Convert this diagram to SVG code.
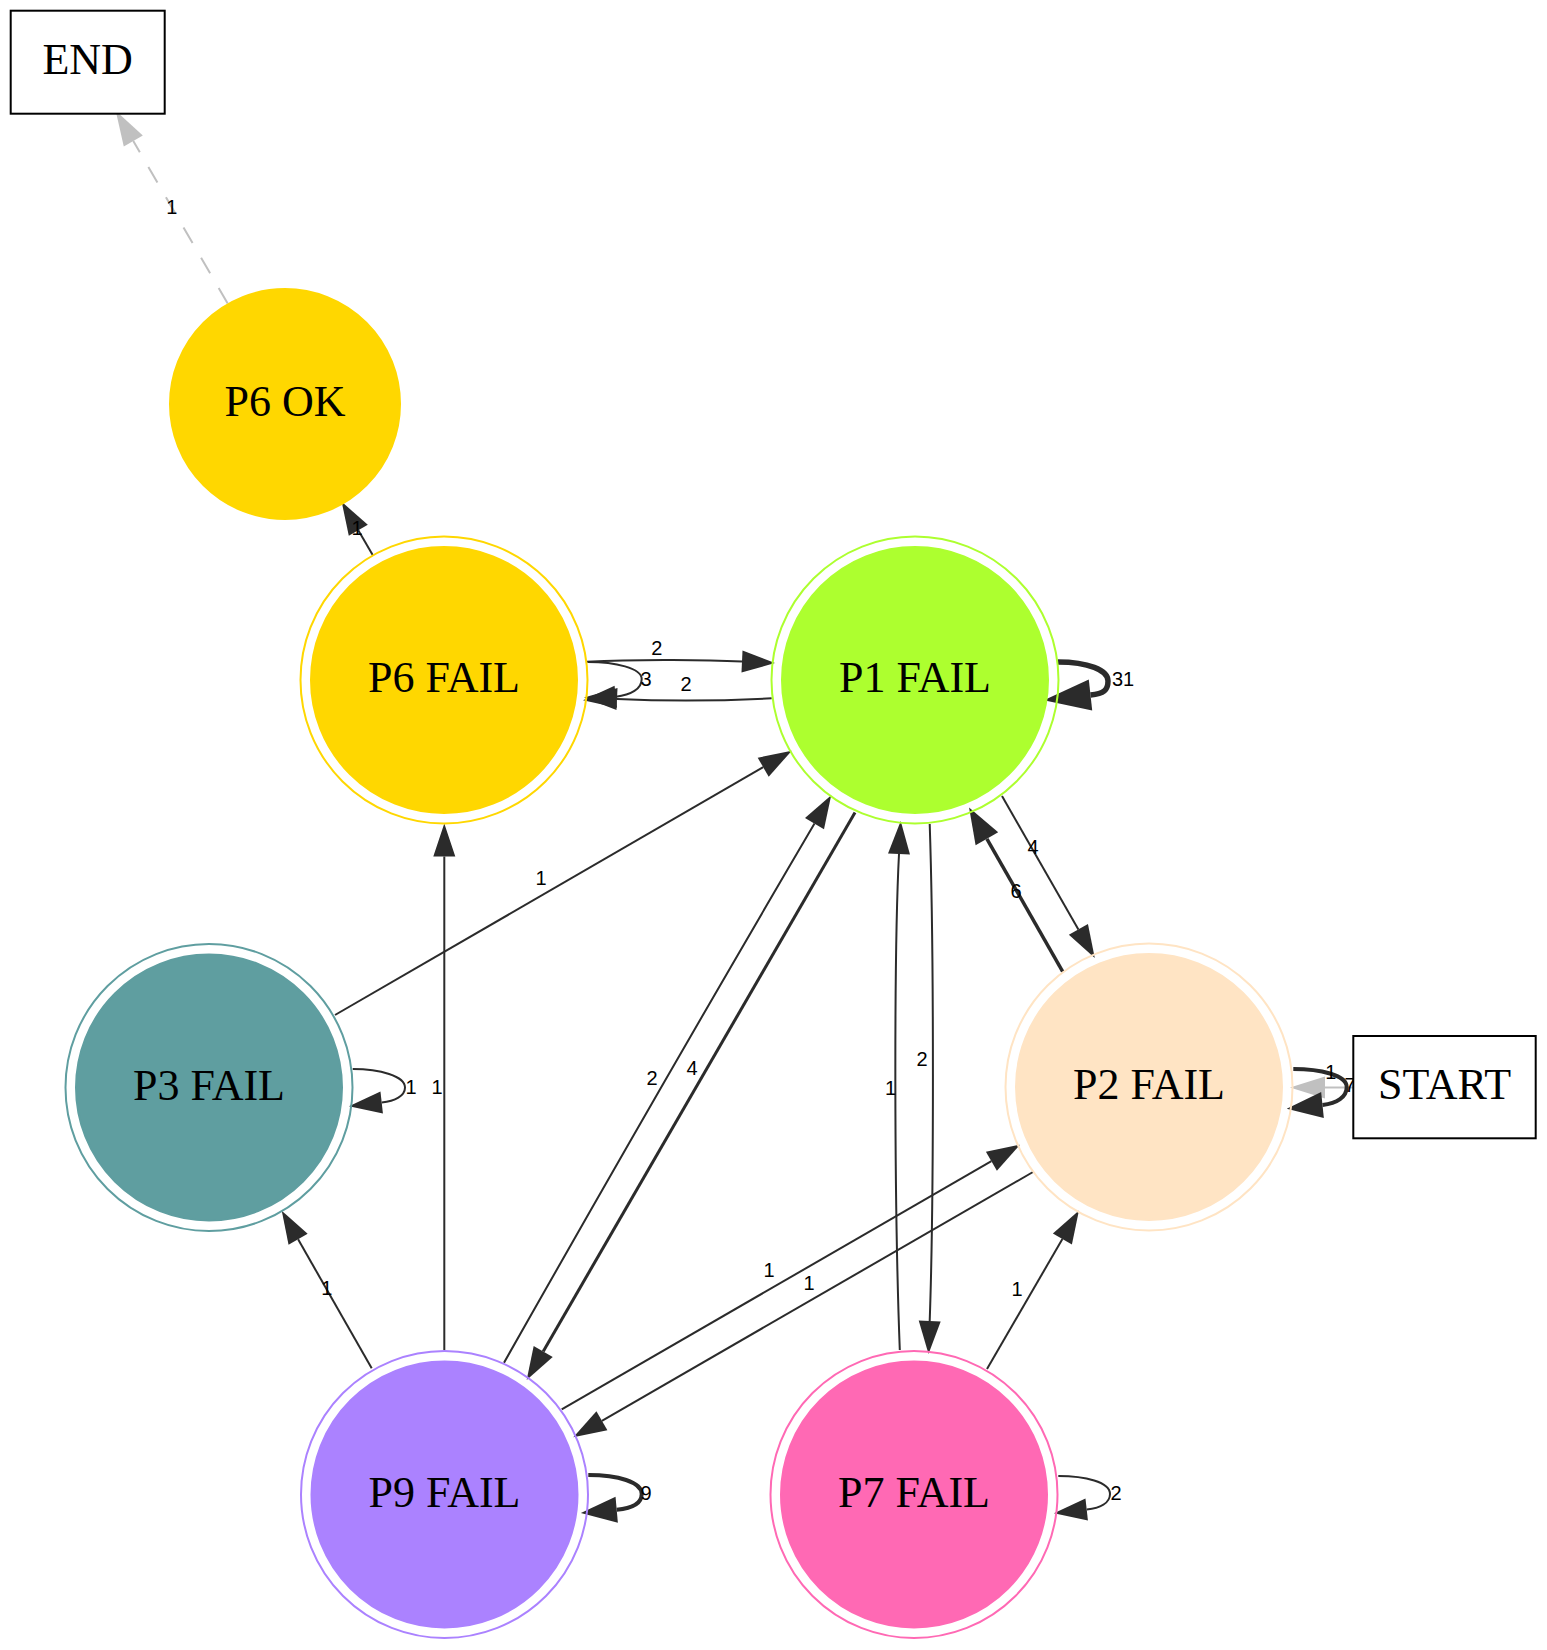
<svg xmlns="http://www.w3.org/2000/svg" width="1547" height="1650" viewBox="0 0 1547 1650">
<style>
.e{fill:none;stroke:#2b2b2b;stroke-width:2}
.g{fill:none;stroke:#c0c0c0;stroke-width:2}
.lbl{font-family:"Liberation Sans",Arial,sans-serif;font-size:20px;text-anchor:middle;fill:#000}
.nt{font-family:"Liberation Serif","Times New Roman",serif;font-size:44px;text-anchor:middle;fill:#000}
.box{fill:#fff;stroke:#000;stroke-width:2}
.ring{fill:none;stroke-width:2}
</style>
<defs>
<marker id="arrN" markerUnits="userSpaceOnUse" viewBox="0 -11 33 22" refX="0" refY="0" markerWidth="33" markerHeight="22" orient="auto" overflow="visible"><path d="M0,-11 L33,0 L0,11 z" fill="#2b2b2b"/></marker>
<marker id="arrM" markerUnits="userSpaceOnUse" viewBox="0 -13 36 26" refX="0" refY="0" markerWidth="36" markerHeight="26" orient="auto" overflow="visible"><path d="M0,-13 L36,0 L0,13 z" fill="#2b2b2b"/></marker>
<marker id="arrL" markerUnits="userSpaceOnUse" viewBox="0 -15.5 47 31" refX="0" refY="0" markerWidth="47" markerHeight="31" orient="auto" overflow="visible"><path d="M0,-15.5 L47,0 L0,15.5 z" fill="#2b2b2b"/></marker>
<marker id="arrG" markerUnits="userSpaceOnUse" viewBox="0 -11 35 22" refX="0" refY="0" markerWidth="35" markerHeight="22" orient="auto" overflow="visible"><path d="M0,-11 L35,0 L0,11 z" fill="#c0c0c0"/></marker>
</defs>
<rect width="1547" height="1650" fill="#fff"/>
<g id="connectors">
<path class="g" d="M227.7,303.6 L133.3,141" stroke-dasharray="18,17" marker-end="url(#arrG)"/>
<path class="e" d="M372.7,555 L358.3,530.3" marker-end="url(#arrN)"/>
<path class="e" d="M587,661.7 C640,659 710,660 742,661.5" marker-end="url(#arrN)"/>
<path class="e" d="M771.7,698.3 C720,701 660,701 617,699" marker-end="url(#arrN)"/>
<path class="e" d="M588,662 C615,662 641.7,668 641.7,679 C641.7,689 631,695 615.8,696.7" marker-end="url(#arrN)"/>
<path class="e" style="stroke-width:5.5" d="M1058,662 C1088,662 1108,670 1108,681 C1108,690 1104,693.5 1090.5,695" marker-end="url(#arrL)"/>
<path class="e" d="M1002,796 L1078.4,929.4" marker-end="url(#arrN)"/>
<path class="e" style="stroke-width:3.5" d="M1062.7,971.7 L986.9,838.8" marker-end="url(#arrM)"/>
<path class="e" d="M929.7,824 C934,950 934,1200 929.7,1321" marker-end="url(#arrN)"/>
<path class="e" d="M899.8,1350 C894,1200 894,950 899,854" marker-end="url(#arrN)"/>
<path class="e" d="M987,1369 L1062.4,1239" marker-end="url(#arrN)"/>
<path class="e" d="M561.7,1409.3 L991.4,1161.2" marker-end="url(#arrN)"/>
<path class="e" d="M1033,1172 L601.9,1420.8" marker-end="url(#arrN)"/>
<path class="e" d="M504,1362.7 Q664,1080 814.5,823.6" marker-end="url(#arrN)"/>
<path class="e" style="stroke-width:3" d="M855,812.5 L543.2,1351.4" marker-end="url(#arrN)"/>
<path class="e" d="M335,1015 L763.2,767.2" marker-end="url(#arrN)"/>
<path class="e" d="M352.7,1069 C380,1069 405,1076 405,1087.5 C405,1096 395,1101 381.7,1102.5" marker-end="url(#arrN)"/>
<path class="e" d="M371.7,1368.3 L298.1,1239.3" marker-end="url(#arrN)"/>
<path class="e" d="M444.3,1350 L444.3,856.5" marker-end="url(#arrN)"/>
<path class="e" style="stroke-width:4" d="M588.3,1475 C618,1475 641.7,1482 641.7,1494 C641.7,1504 630,1508.5 616.7,1509.7" marker-end="url(#arrM)"/>
<path class="e" d="M1058.3,1476 C1085,1476 1110,1482 1110,1494 C1110,1503 1100,1508 1086.7,1509.5" marker-end="url(#arrN)"/>
<path class="g" d="M1353,1087.5 L1325,1087.5" marker-end="url(#arrG)"/>
<path class="e" style="stroke-width:4" d="M1293.3,1069 C1320,1069 1346.7,1075 1346.7,1087 C1346.7,1097 1337,1103.5 1322.5,1105" marker-end="url(#arrM)"/>
<text class="lbl" x="171.7" y="214">1</text>
<text class="lbl" x="357" y="535">1</text>
<text class="lbl" x="656.7" y="655">2</text>
<text class="lbl" x="686" y="691">2</text>
<text class="lbl" x="646" y="686">3</text>
<text class="lbl" x="1123" y="686">31</text>
<text class="lbl" x="1033" y="854">4</text>
<text class="lbl" x="1016" y="898">6</text>
<text class="lbl" x="922" y="1066">2</text>
<text class="lbl" x="890.6" y="1095">1</text>
<text class="lbl" x="1017" y="1296">1</text>
<text class="lbl" x="769" y="1277">1</text>
<text class="lbl" x="809" y="1290">1</text>
<text class="lbl" x="652" y="1085">2</text>
<text class="lbl" x="692" y="1075">4</text>
<text class="lbl" x="541" y="885">1</text>
<text class="lbl" x="411" y="1094">1</text>
<text class="lbl" x="326.7" y="1295">1</text>
<text class="lbl" x="437" y="1094">1</text>
<text class="lbl" x="646" y="1500">9</text>
<text class="lbl" x="1116" y="1500">2</text>
<text class="lbl" x="1330.7" y="1079">1</text>
<text class="lbl" x="1350" y="1092">7</text>
</g>
<g id="END"><rect class="box" x="10.7" y="10.7" width="154" height="103"/><text class="nt" x="87.7" y="74">END</text></g>
<g id="START"><rect class="box" x="1353.3" y="1036" width="182.4" height="102.3"/><text class="nt" x="1444.5" y="1099">START</text></g>
<g id="P6_OK"><circle cx="285" cy="404" r="115" fill="#ffd700" stroke="#ffd700" stroke-width="2"/><text class="nt" x="285" y="416">P6 OK</text></g>
<g id="P6_FAIL"><circle class="ring" cx="444" cy="680" r="143.5" stroke="#ffd700"/><circle cx="444" cy="680" r="133" fill="#ffd700" stroke="#ffd700" stroke-width="2"/><text class="nt" x="444" y="692">P6 FAIL</text></g>
<g id="P1_FAIL"><circle class="ring" cx="915" cy="680" r="143.5" stroke="#adff2f"/><circle cx="915" cy="680" r="133" fill="#adff2f" stroke="#adff2f" stroke-width="2"/><text class="nt" x="915" y="692">P1 FAIL</text></g>
<g id="P3_FAIL"><circle class="ring" cx="209" cy="1087.5" r="143.5" stroke="#5f9ea0"/><circle cx="209" cy="1087.5" r="133" fill="#5f9ea0" stroke="#5f9ea0" stroke-width="2"/><text class="nt" x="209" y="1099.5">P3 FAIL</text></g>
<g id="P2_FAIL"><circle class="ring" cx="1149" cy="1087" r="143.5" stroke="#ffe4c4"/><circle cx="1149" cy="1087" r="133" fill="#ffe4c4" stroke="#ffe4c4" stroke-width="2"/><text class="nt" x="1149" y="1099">P2 FAIL</text></g>
<g id="P9_FAIL"><circle class="ring" cx="444.5" cy="1494.5" r="143.5" stroke="#ab82ff"/><circle cx="444.5" cy="1494.5" r="133" fill="#ab82ff" stroke="#ab82ff" stroke-width="2"/><text class="nt" x="444.5" y="1506.5">P9 FAIL</text></g>
<g id="P7_FAIL"><circle class="ring" cx="914" cy="1494.5" r="143.5" stroke="#ff69b4"/><circle cx="914" cy="1494.5" r="133" fill="#ff69b4" stroke="#ff69b4" stroke-width="2"/><text class="nt" x="914" y="1506.5">P7 FAIL</text></g>
</svg>
